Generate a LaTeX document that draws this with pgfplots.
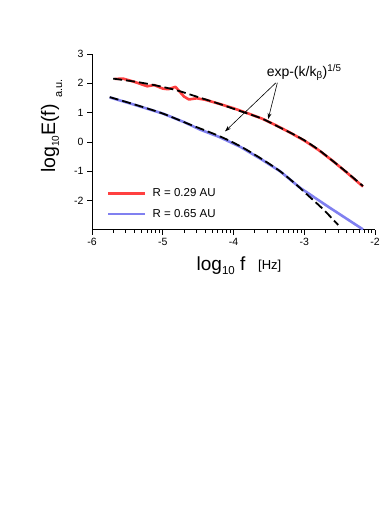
\documentclass[border=0pt]{standalone}
\usepackage{pgfplots}
\pgfplotsset{compat=1.18}
\usepackage{fontspec}
\setmainfont{Liberation Sans}
\usetikzlibrary{arrows.meta}
\definecolor{cred}{RGB}{255,64,64}
\definecolor{cblue}{RGB}{128,128,240}
\begin{document}
\begin{tikzpicture}[x=1pt,y=1pt]
\path[use as bounding box] (0,0) rectangle (390,510);
\begin{axis}[
  at={(92pt,280pt)}, anchor=south west,
  scale only axis, width=283pt, height=176pt,
  xmin=-6, xmax=-2, ymin=-3, ymax=3,
  axis x line*=bottom, axis y line*=left,
  xtick={-6,-5,-4,-3,-2},
  ytick={-2,-1,0,1,2,3},
  minor xtick={-5.699,-5.523,-5.398,-5.301,-5.222,-5.155,-5.097,-5.046,
               -4.699,-4.523,-4.398,-4.301,-4.222,-4.155,-4.097,-4.046,
               -3.699,-3.523,-3.398,-3.301,-3.222,-3.155,-3.097,-3.046,
               -2.699,-2.523,-2.398,-2.301,-2.222,-2.155,-2.097,-2.046},
  tick align=outside,
  major tick length=5pt, minor tick length=3pt,
  tick style={black, line width=0.8pt},
  axis line style={line width=1pt},
  ticklabel style={font=\fontsize{10.5}{12}\selectfont},
  /pgf/number format/assume math mode=true,
  clip=false,
  legend style={at={(axis cs:-5.79,-2.11)}, anchor=west, draw=none, fill=none,
    font=\fontsize{11.5}{13}\selectfont, row sep=7pt, column sep=4pt, inner sep=0pt},
  legend cell align=left,
  legend image code/.code={\draw[#1] (0pt,0pt) -- (37pt,0pt);},
]
% R = 0.29 AU
\addplot[cred, line width=2.6pt, line join=round] coordinates {
  (-5.68,2.15) (-5.56,2.16) (-5.40,2.05) (-5.22,1.90) (-5.12,1.94)
  (-5.00,1.82) (-4.92,1.80) (-4.82,1.88) (-4.70,1.55) (-4.63,1.45)
  (-4.52,1.49) (-4.40,1.44) (-4.20,1.30) (-4.00,1.15) (-3.80,0.98)
  (-3.60,0.80) (-3.40,0.57) (-3.20,0.32) (-3.00,0.05) (-2.80,-0.27)
  (-2.60,-0.64) (-2.40,-1.04) (-2.17,-1.52)
};
\addlegendentry{R = 0.29 AU}
% R = 0.65 AU
\addplot[cblue, line width=2.6pt, line join=round] coordinates {
  (-5.75,1.52) (-5.40,1.27) (-5.00,0.97) (-4.70,0.68) (-4.47,0.42)
  (-4.20,0.17) (-3.90,-0.17) (-3.60,-0.60) (-3.34,-1.00) (-3.06,-1.56)
  (-2.64,-2.24) (-2.17,-2.98)
};
\addlegendentry{R = 0.65 AU}
% fits
\addplot[black, line width=1.8pt, dash pattern=on 9pt off 4pt, forget plot, smooth] coordinates {
  (-5.70,2.16) (-5.40,2.06) (-5.10,1.93) (-4.80,1.76) (-4.50,1.53)
  (-4.20,1.30) (-3.90,1.05) (-3.60,0.80) (-3.40,0.56) (-3.20,0.32)
  (-3.00,0.06) (-2.80,-0.26) (-2.60,-0.64) (-2.40,-1.03) (-2.17,-1.50)
};
\addplot[black, line width=1.8pt, dash pattern=on 9pt off 4pt, forget plot, smooth] coordinates {
  (-5.75,1.53) (-5.40,1.28) (-5.00,0.97) (-4.62,0.60) (-4.20,0.20)
  (-3.90,-0.15) (-3.60,-0.58) (-3.34,-1.00) (-3.10,-1.48) (-2.97,-1.77)
  (-2.73,-2.30) (-2.52,-2.83)
};
\node[anchor=base west, font=\fontsize{14}{16}\selectfont] at (axis cs:-3.58,2.23)
  {exp-(k/k\textsubscript{β})\textsuperscript{1/5}};
\draw[-{Stealth[length=6pt,width=4pt]}, line width=0.6pt] (axis cs:-3.40,2.02) -- (axis cs:-4.12,0.36);
\draw[-{Stealth[length=6pt,width=4pt]}, line width=0.6pt] (axis cs:-3.38,2.02) -- (axis cs:-3.51,0.78);
\end{axis}
\node[rotate=90, anchor=base west, font=\fontsize{19.5}{23}\selectfont, inner sep=0pt] at (55,337)
  {log\raisebox{-0.2em}{\fontsize{10}{12}\selectfont 10}E(f)};
\node[rotate=90, anchor=base west, font=\fontsize{11}{13}\selectfont, inner sep=0pt] at (62,412) {a.u.};
\node[anchor=base west, font=\fontsize{19}{22}\selectfont, inner sep=0pt] at (196.5,239.5)
  {log\raisebox{-0.2em}{\fontsize{11.5}{13}\selectfont 10} f};
\node[anchor=base west, font=\fontsize{13}{15}\selectfont, inner sep=0pt] at (258,240) {[Hz]};
\end{tikzpicture}
\end{document}
